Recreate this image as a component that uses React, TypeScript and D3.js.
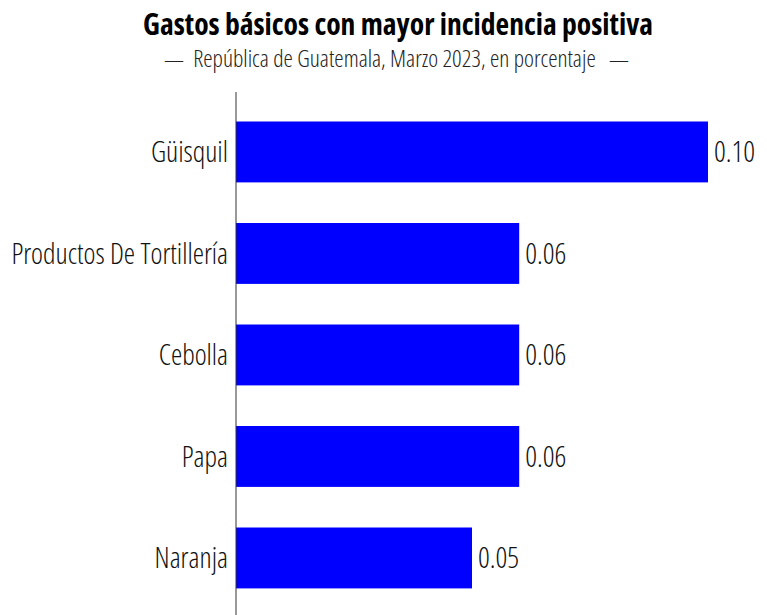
import React, { useRef, useEffect } from 'react';
import * as d3 from 'd3';

const categories = ['Güisquil', 'Productos De Tortillería', 'Cebolla', 'Papa', 'Naranja'];
const values = [0.10, 0.06, 0.06, 0.06, 0.05];
const title = 'Gastos básicos con mayor incidencia positiva';
const subtitle = 'República de Guatemala, Marzo 2023, en porcentaje';

const width = 767;
const height = 615;
const FONT = '"Open Sans", sans-serif';

export default function App() {
    const svgRef = useRef<SVGSVGElement>(null);

    useEffect(() => {
        if (!svgRef.current) return;
        const svg = d3.select(svgRef.current);
        svg.selectAll('*').remove();

        const x = d3.scaleLinear().domain([0, 0.10]).range([236, 708]);
        const y = d3.scaleBand<string>()
            .domain(categories)
            .range([101.2, 608.7])
            .paddingInner(0.4)
            .paddingOuter(0.2);

        const txt = (sel: any, size: number, weight: number) =>
            sel.attr('font-family', FONT)
                .attr('font-stretch', 'condensed')
                .attr('font-weight', weight)
                .attr('font-size', size);

        // title block
        txt(svg.append('text'), 29.6, 700)
            .attr('x', 398).attr('y', 35)
            .attr('text-anchor', 'middle')
            .attr('fill', '#000')
            .text(title);

        const sub = svg.append('g').attr('fill', '#222');
        txt(sub.append('text'), 23.6, 300)
            .attr('x', 394.5).attr('y', 67)
            .attr('text-anchor', 'middle')
            .text(subtitle);
        // the two dashes round the subtitle
        txt(sub.append('text'), 20, 300)
            .attr('x', 184).attr('y', 67)
            .attr('text-anchor', 'end')
            .text('—');
        txt(sub.append('text'), 20, 300)
            .attr('x', 609).attr('y', 67)
            .text('—');

        const data = categories.map((c, i) => ({ c, v: values[i] }));

        svg.selectAll('rect.bar')
            .data(data).enter().append('rect')
            .attr('class', 'bar')
            .attr('x', x(0))
            .attr('y', d => y(d.c)!)
            .attr('width', d => x(d.v) - x(0))
            .attr('height', y.bandwidth())
            .attr('fill', '#0000ff');

        // category labels
        txt(svg.selectAll('text.cat')
            .data(data).enter().append('text'), 28.5, 300)
            .attr('class', 'cat')
            .attr('x', x(0) - 8)
            .attr('y', (d: any) => y(d.c)! + y.bandwidth() / 2)
            .attr('dy', '0.36em')
            .attr('text-anchor', 'end')
            .attr('fill', '#111')
            .text((d: any) => d.c);

        // value labels
        txt(svg.selectAll('text.val')
            .data(data).enter().append('text'), 29, 300)
            .attr('class', 'val')
            .attr('x', (d: any) => x(d.v) + 6)
            .attr('y', (d: any) => y(d.c)! + y.bandwidth() / 2)
            .attr('dy', '0.36em')
            .attr('fill', '#111')
            .text((d: any) => d3.format('.2f')(d.v));

        // axis line
        svg.append('line')
            .attr('x1', x(0)).attr('x2', x(0))
            .attr('y1', 92).attr('y2', height)
            .attr('stroke', '#333')
            .attr('stroke-width', 1);
    }, []);

    return (
        <svg
            ref={svgRef}
            width={width}
            height={height}
            style={{ position: 'absolute', left: 0, top: 0, background: '#fff' }}
        />
    );
}
